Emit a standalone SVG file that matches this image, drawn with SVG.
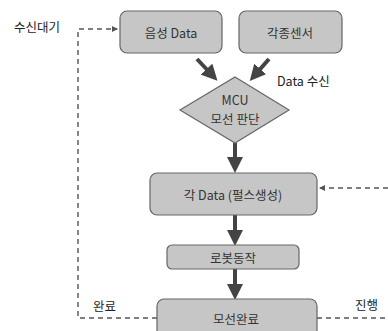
<svg xmlns="http://www.w3.org/2000/svg" width="388" height="331" viewBox="0 0 388 331">
<style>
.box{fill:#c6c6c6;stroke:#666;stroke-width:1.2}
.t{font-family:"Noto Sans CJK KR","Noto Sans",sans-serif;font-size:12.5px;fill:#333;text-anchor:middle;dominant-baseline:central}
.l{font-family:"Noto Sans CJK KR","Noto Sans",sans-serif;font-size:12.5px;fill:#222;dominant-baseline:central}
.thick{stroke:#444;stroke-width:4;fill:none}
.dash{stroke:#555;stroke-width:1.4;fill:none;stroke-dasharray:5,4}
</style>
<defs>
<marker id="ah" markerWidth="4" markerHeight="4" refX="2" refY="2" orient="auto" markerUnits="strokeWidth">
<path d="M0,0 L4,2 L0,4 Z" fill="#444"/>
</marker>
<marker id="dh" markerWidth="6" markerHeight="6" refX="5" refY="3" orient="auto" markerUnits="userSpaceOnUse">
<path d="M0,0 L6,3 L0,6 Z" fill="#555"/>
</marker>
</defs>
<rect width="388" height="331" fill="#fff"/>
<g id="connectors">
<path class="thick" d="M197,59 L212,75" marker-end="url(#ah)"/>
<path class="thick" d="M269,59 L255,75" marker-end="url(#ah)"/>
<path class="thick" d="M235,143 L235,165" marker-end="url(#ah)"/>
<path class="thick" d="M235,215 L235,238" marker-end="url(#ah)"/>
<path class="thick" d="M235,269 L235,292" marker-end="url(#ah)"/>
<path class="dash" d="M157,318 L78,318 L78,29 L117,29" marker-end="url(#dh)"/>
<path class="dash" d="M388,188 L320,188" marker-end="url(#dh)"/>
<path class="dash" d="M317,318 L388,318"/>
</g>
<g id="voice"><rect class="box" x="120" y="11" width="102" height="42" rx="7"/><text class="t" x="171" y="32">음성 Data</text></g>
<g id="sensor"><rect class="box" x="239" y="11" width="103" height="42" rx="7"/><text class="t" x="290" y="32">각종센서</text></g>
<g id="mcu"><polygon class="box" points="235,77 289,110 235,143 180,110"/><text class="t" x="235" y="99">MCU</text><text class="t" x="235" y="118">모선 판단</text></g>
<g id="pulse"><rect class="box" x="150" y="173" width="167" height="42" rx="7"/><text class="t" x="233" y="194">각 Data (펄스생성)</text></g>
<g id="robot"><rect class="box" x="167" y="245" width="132" height="24" rx="5"/><text class="t" x="233" y="257">로봇동작</text></g>
<g id="done"><rect class="box" x="157" y="299" width="160" height="40" rx="7"/><text class="t" x="236" y="318">모선완료</text></g>
<g id="labels">
<text class="l" x="14" y="26">수신대기</text>
<text class="l" x="277" y="80">Data 수신</text>
<text class="l" x="93" y="305">완료</text>
<text class="l" x="355" y="304">진행</text>
</g>
</svg>
